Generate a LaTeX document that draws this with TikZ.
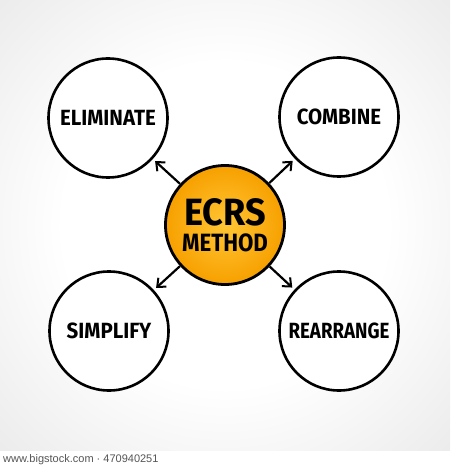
\documentclass[tikz,border=0pt]{standalone}
\usepackage{fontspec}
\setmainfont{Fira Sans}
\newfontfamily\wmfont{Liberation Sans}
\usetikzlibrary{arrows.meta}
\definecolor{orangeA}{HTML}{FFC634}
\definecolor{orangeB}{HTML}{F7A000}
\definecolor{wmgray}{HTML}{555555}
\pgfdeclareradialshading{bgshade}{\pgfpoint{0bp}{0bp}}{color(0bp)=(white); color(18bp)=(white); color(50bp)=(black!14); color(71bp)=(black!24)}
\tikzset{
  bubble/.style={circle, draw=black, line width=2.6pt, fill=white, minimum size=119pt, inner sep=0pt, font=\bfseries\fontsize{22}{22}\selectfont},
  hub/.style={circle, draw=black, line width=2.8pt, inner color=orangeA, outer color=orangeB, minimum size=119pt, inner sep=0pt, align=center},
  link/.style={line width=2.2pt, -{Straight Barb[length=7pt,width=12pt,line width=2pt]}, shorten >=3pt}
}
\begin{document}
\begin{tikzpicture}[x=1pt,y=-1pt]
\useasboundingbox (0,0) rectangle (450,470);
\fill[white] (0,0) rectangle (450,470);
\shade[shading=bgshade] (0,0) rectangle (450,450);
\node[bubble] (elim) at (108,118) {\scalebox{0.93}[1]{ELIMINATE}};
\node[bubble] (comb) at (339,117) {\scalebox{0.93}[1]{COMBINE}};
\node[bubble] (simp) at (109,331) {\scalebox{0.93}[1]{SIMPLIFY}};
\node[bubble] (rear) at (339,331) {\scalebox{0.85}[1]{REARRANGE}};
\node[hub] (hub) at (225,225) {\bfseries\fontsize{38}{38}\selectfont\scalebox{0.95}[1]{ECRS}\\[7pt]\bfseries\fontsize{25}{25}\selectfont\scalebox{0.89}[1]{METHOD}};
\draw[link] (hub) -- (elim);
\draw[link] (hub) -- (comb);
\draw[link] (hub) -- (simp);
\draw[link] (hub) -- (rear);
\node[anchor=west, text=wmgray, font=\wmfont\fontsize{11}{11}\selectfont, inner sep=0pt] (wm) at (3,460) {www.bigstock.com · 470940251};
\end{tikzpicture}
\end{document}
